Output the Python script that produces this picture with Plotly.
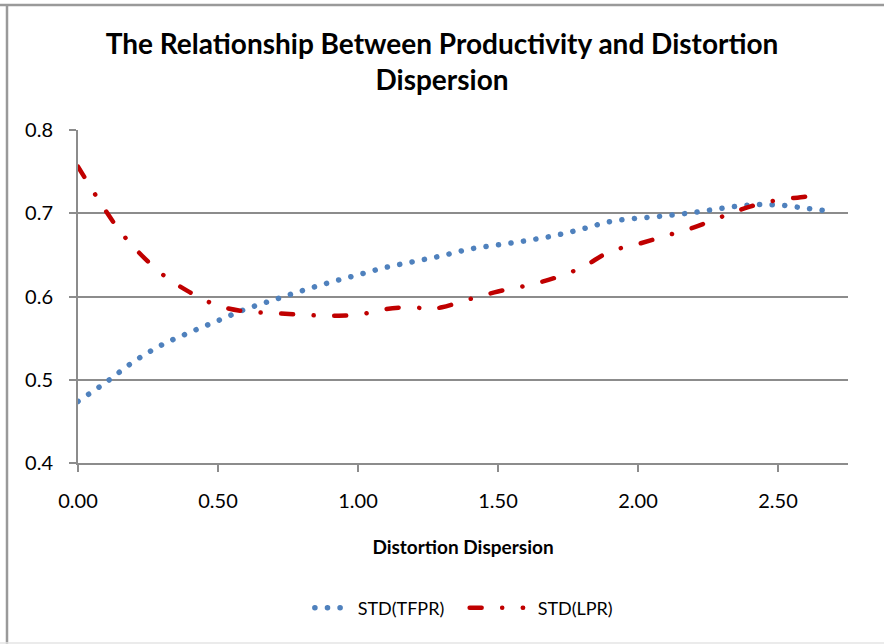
import plotly.graph_objects as go

# Distortion dispersion (x) and productivity dispersion series
tfpr_x = [0.0, 0.1, 0.2, 0.3, 0.4, 0.5, 0.6, 0.7, 0.8, 0.9, 1.0, 1.1, 1.2, 1.3, 1.4,
          1.5, 1.6, 1.7, 1.8, 1.9, 2.0, 2.1, 2.2, 2.3, 2.4, 2.5, 2.6, 2.7]
tfpr_y = [0.474, 0.497, 0.522, 0.542, 0.557, 0.571, 0.585, 0.596, 0.607, 0.617, 0.626,
          0.635, 0.642, 0.649, 0.657, 0.662, 0.667, 0.673, 0.681, 0.690, 0.694, 0.697,
          0.701, 0.706, 0.710, 0.710, 0.706, 0.702]

lpr_x = [0.0, 0.07, 0.14, 0.2, 0.3, 0.4, 0.5, 0.6, 0.7, 0.8, 0.9, 1.0, 1.1, 1.2, 1.25,
         1.3, 1.4, 1.5, 1.6, 1.7, 1.8, 1.9, 2.0, 2.1, 2.2, 2.3, 2.4, 2.5, 2.6, 2.66]
lpr_y = [0.756, 0.718, 0.683, 0.659, 0.627, 0.605, 0.589, 0.582, 0.580, 0.578, 0.577,
         0.578, 0.585, 0.587, 0.585, 0.587, 0.597, 0.606, 0.613, 0.622, 0.635, 0.654,
         0.663, 0.673, 0.683, 0.696, 0.708, 0.716, 0.720, 0.724]

x_ticks = [0.0, 0.5, 1.0, 1.5, 2.0, 2.5]
y_ticks = [0.4, 0.5, 0.6, 0.7, 0.8]

FONT = "Lato"
GRID = "#8c8c8c"
W, H = 884, 644
L, R, T, B = 78, 36, 130, 181
PW, PH = W - L - R, H - T - B

fig = go.Figure()
fig.add_trace(go.Scatter(
    x=tfpr_x, y=tfpr_y, name="STD(TFPR)", mode="lines",
    line=dict(color="#4F81BD", width=5.5, shape="spline", dash="0.1px,12.5px"),
))
fig.add_trace(go.Scatter(
    x=lpr_x, y=lpr_y, name="STD(LPR)", mode="lines",
    line=dict(color="#C00000", width=4.5, shape="spline", dash="12px,20.5px,0.1px,20.5px"),
))

fig.update_layout(
    width=W, height=H,
    paper_bgcolor="white", plot_bgcolor="white",
    margin=dict(l=L, r=R, t=T, b=B),
    font=dict(family=FONT, color="black", size=20),
    title=dict(
        text="<b>The Relationship Between Productivity and Distortion<br>Dispersion</b>",
        x=0.5, xanchor="center", yref="container", y=1 - 54 / H, yanchor="top",
        font=dict(family=FONT, size=28, color="black"),
    ),
    xaxis=dict(
        range=[0, 2.75], tickvals=x_ticks, tickformat=".2f",
        showgrid=False, zeroline=False,
        showline=True, linecolor=GRID, linewidth=2,
        ticks="outside", ticklen=7, tickwidth=1.5, tickcolor=GRID,
        ticklabelstandoff=12,
        tickfont=dict(size=20),
        title=dict(text="<b>Distortion Dispersion</b>", font=dict(size=19), standoff=30),
    ),
    yaxis=dict(
        range=[0.4, 0.8], tickvals=y_ticks, tickformat=".1f",
        showgrid=True, gridcolor=GRID, gridwidth=2, zeroline=False,
        showline=True, linecolor=GRID, linewidth=2,
        ticks="outside", ticklen=7, tickwidth=1.5, tickcolor=GRID,
        ticklabelstandoff=12,
        tickfont=dict(size=20),
    ),
    legend=dict(
        orientation="h", x=0.532, xanchor="center", y=-(608 - (T + PH)) / PH, yanchor="middle",
        font=dict(size=18), itemwidth=40, entrywidth=125, entrywidthmode="pixels",
    ),
    showlegend=True,
    shapes=[
        # outer chart frame: top, left and faint bottom edges
        dict(type="line", xref="x domain", yref="y domain", x0=-L / PW, x1=1.2,
             y0=1 + (T - 5) / PH, y1=1 + (T - 5) / PH, line=dict(color="#9a9a9a", width=2.5)),
        dict(type="line", xref="x domain", yref="y domain", x0=-(L - 7) / PW, x1=-(L - 7) / PW,
             y0=-1, y1=1 + (T - 5) / PH, line=dict(color="#9a9a9a", width=2.5)),
        dict(type="line", xref="x domain", yref="y domain", x0=-0.2, x1=1.2,
             y0=-(B - 1) / PH, y1=-(B - 1) / PH, line=dict(color="#e4e4e4", width=1.5)),
    ],
)

# round line caps so the dash pattern draws round dots; longer legend samples
post = """
var gd = document.getElementById('{plot_id}');
function rc(){
  gd.querySelectorAll('path.js-line').forEach(function(p){
    p.style.strokeLinecap = 'round';
  });
  gd.querySelectorAll('.legend .legendlines path').forEach(function(p){
    p.setAttribute('d', 'M-18,0h53.5');
  });
}
rc();
gd.on('plotly_afterplot', rc);
"""

fig.write_html("out.html", post_script=post)
